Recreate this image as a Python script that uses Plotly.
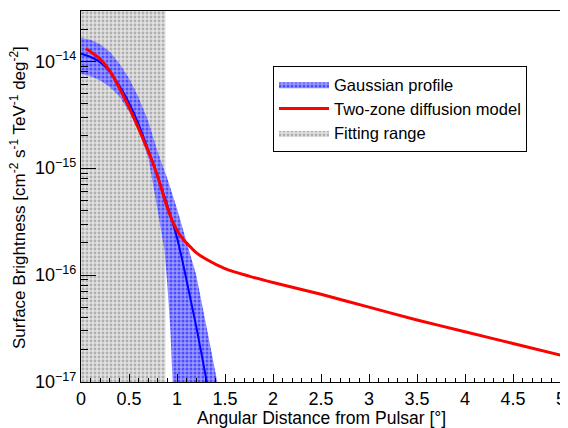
import plotly.graph_objects as go

# ---------------- data ----------------
fit_range = [0.0, 0.88]

model_x = [0.05, 0.1, 0.2, 0.3, 0.4, 0.5, 0.6, 0.7, 0.8, 0.85, 0.9, 0.95, 1.0, 1.05, 1.1,
           1.2, 1.3, 1.5, 1.75, 2.0, 2.5, 3.0, 3.5, 4.0, 4.5, 5.0]
model_log = [-13.88, -13.91, -13.98, -14.09, -14.25, -14.43, -14.63, -14.84, -15.08, -15.23,
             -15.37, -15.49, -15.58, -15.65, -15.70, -15.79, -15.85, -15.94, -16.01, -16.07,
             -16.18, -16.30, -16.42, -16.53, -16.64, -16.75]

gauss_x = [0.0, 0.1, 0.2, 0.3, 0.4, 0.5, 0.6, 0.7, 0.8, 0.9, 1.0, 1.1, 1.2, 1.3, 1.33]
gauss_log = [-13.93, -13.96, -14.01, -14.10, -14.23, -14.39, -14.59, -14.83, -15.08, -15.35,
             -15.65, -16.05, -16.48, -16.95, -17.1]

upper_x = [0.0, 0.1, 0.2, 0.3, 0.4, 0.5, 0.6, 0.7, 0.8, 0.9, 1.0, 1.1, 1.2, 1.3, 1.42]
upper_log = [-13.78, -13.80, -13.84, -13.91, -14.02, -14.16, -14.34, -14.56, -14.85, -15.10,
             -15.38, -15.70, -16.00, -16.45, -17.0]

lower_x = [0.0, 0.1, 0.2, 0.3, 0.4, 0.5, 0.6, 0.7, 0.78, 0.87, 0.9, 0.93, 0.955]
lower_log = [-14.12, -14.14, -14.18, -14.24, -14.33, -14.47, -14.65, -14.90, -15.30, -15.77,
             -16.1, -16.5, -17.0]

y_log_range = [-17.0, -13.53]
x_range = [0.0, 5.0]
x_major = [0, 0.5, 1, 1.5, 2, 2.5, 3, 3.5, 4, 4.5, 5]
x_major_text = ["0", "0.5", "1", "1.5", "2", "2.5", "3", "3.5", "4", "4.5", "5"]
y_major = [1e-17, 1e-16, 1e-15, 1e-14]
y_major_text = ["10<sup>\u221217</sup>", "10<sup>\u221216</sup>", "10<sup>\u221215</sup>",
                "10<sup>\u221214</sup>"]

# ---------------- figure ----------------
def p10(v):
    return [10 ** t for t in v]

ymin, ymax = 10 ** y_log_range[0], 10 ** y_log_range[1]

fig = go.Figure()

# fitting range (gray hatched)
fig.add_trace(go.Scatter(
    x=[fit_range[0], fit_range[1], fit_range[1], fit_range[0], fit_range[0]],
    y=[ymin, ymin, ymax, ymax, ymin],
    mode="lines", line=dict(width=0, color="#888888"),
    fill="toself", fillcolor="#c8c8c8",
    fillpattern=dict(shape=".", fgcolor="#7c7c7c", bgcolor="#e2e2e2", size=4, solidity=0.4),
    name="Fitting range", legendrank=3, legendgroup="c", hoverinfo="skip"))

# gaussian band
fig.add_trace(go.Scatter(
    x=upper_x + lower_x[::-1],
    y=p10(upper_log) + p10(lower_log[::-1]),
    mode="lines", line=dict(width=0, color="#0000ff"),
    fill="toself", fillcolor="#5050ff",
    fillpattern=dict(shape=".", fgcolor="#0000ff", bgcolor="#9a9aff", size=4, solidity=0.45),
    name="Gaussian profile", legendrank=1, legendgroup="a", hoverinfo="skip"))

# gaussian central line
fig.add_trace(go.Scatter(
    x=gauss_x, y=p10(gauss_log), mode="lines",
    line=dict(color="#0000ff", width=2, shape="spline"),
    showlegend=False, legendgroup="a"))

# two-zone diffusion model
fig.add_trace(go.Scatter(
    x=model_x, y=p10(model_log), mode="lines",
    line=dict(color="#ff0000", width=3, shape="spline", smoothing=0.8),
    name="Two-zone diffusion model", legendrank=2, legendgroup="b"))

minor_y = []
for e in range(-17, -13):
    for k in range(2, 10):
        v = k * 10 ** e
        if v <= ymax:
            minor_y.append(v)

font_family = "Liberation Sans, Arial, Helvetica, sans-serif"

# page body has an 8 px margin: figure is 8 px smaller so the plot frame lands
# where the reference has it in the 568x428 window
fig.update_layout(
    width=560, height=420,
    margin=dict(l=73, r=4, t=2, b=46),
    paper_bgcolor="white", plot_bgcolor="white",
    font=dict(family=font_family, size=16, color="black"),
    showlegend=True,
    legend=dict(x=0.40, y=0.852, xanchor="left", yanchor="top",
                bgcolor="white", bordercolor="black", borderwidth=1,
                font=dict(size=16.5, family=font_family), traceorder="normal",
                tracegroupgap=8, itemwidth=50),
    xaxis=dict(range=x_range, showline=True, linecolor="black", linewidth=1, mirror=True,
               ticks="inside", ticklen=8, tickcolor="black", tickwidth=1,
               tickmode="array", tickvals=x_major, ticktext=x_major_text,
               ticklabeloverflow="allow",
               minor=dict(ticks="inside", ticklen=4, tickcolor="black", dtick=0.1, tick0=0,
                          showgrid=False),
               showgrid=False, zeroline=False, tickfont=dict(size=18)),
    yaxis=dict(type="log", range=y_log_range, showline=True, linecolor="black", linewidth=1,
               mirror=True, ticks="inside", ticklen=15, tickcolor="black", tickwidth=1,
               tickmode="array", tickvals=y_major, ticktext=y_major_text,
               ticklabeloverflow="allow",
               minor=dict(ticks="inside", ticklen=7, tickcolor="black", tickmode="array",
                          tickvals=minor_y, showgrid=False),
               showgrid=False, zeroline=False, tickfont=dict(size=18)),
    annotations=[
        dict(text="Angular Distance from Pulsar [\u00b0]", xref="paper", yref="paper",
             x=0.5, y=-0.097, xanchor="center", yanchor="middle", showarrow=False,
             font=dict(size=17.5)),
        dict(text="Surface Brightness [cm<sup>-2</sup> s<sup>-1</sup> TeV<sup>-1</sup> deg<sup>-2</sup>]",
             xref="paper", yref="paper", x=-0.1325, y=0.497, xanchor="center", yanchor="middle",
             textangle=-90, showarrow=False, font=dict(size=17)),
    ],
)

fig.write_html("out.html")
